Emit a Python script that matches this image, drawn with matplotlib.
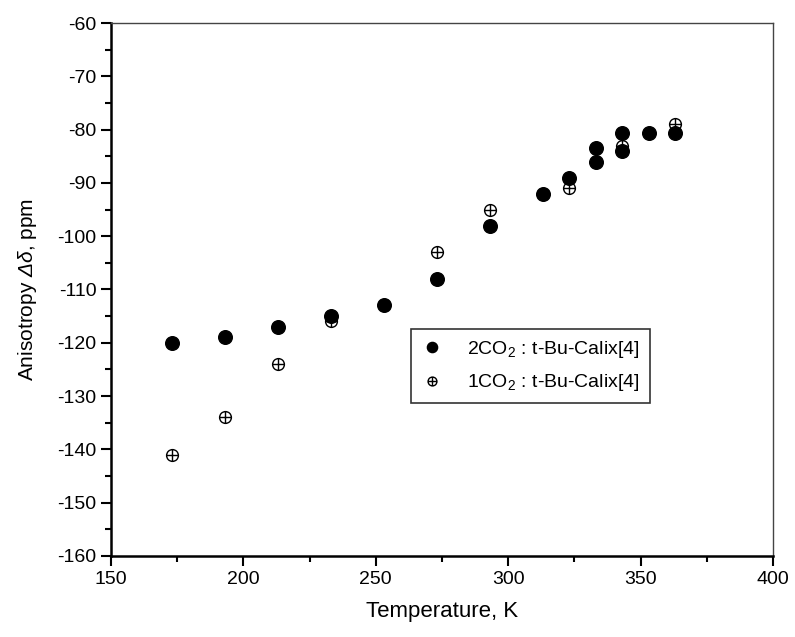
import numpy as np
import matplotlib
matplotlib.use('Agg')
import matplotlib.pyplot as plt
from matplotlib.path import Path
from matplotlib.ticker import MultipleLocator

plt.rcParams['font.family'] = ['Liberation Sans', 'DejaVu Sans']
plt.rcParams['mathtext.fontset'] = 'custom'
plt.rcParams['mathtext.rm'] = 'Liberation Sans'
plt.rcParams['mathtext.it'] = 'Liberation Sans:italic'
plt.rcParams['mathtext.sf'] = 'Liberation Sans:italic'  # italic Greek capitals too
plt.rcParams['axes.unicode_minus'] = False

# 2CO2 : t-Bu-Calix[4] (filled circles)
T2 = [173, 193, 213, 233, 253, 273, 293, 313, 323, 333, 333, 343, 343, 353, 363]
d2 = [-120, -119, -117, -115, -113, -108, -98, -92, -89, -83.5, -86, -80.7, -84, -80.7, -80.7]

# 1CO2 : t-Bu-Calix[4] (crossed circles)
T1 = [173, 193, 213, 233, 253, 273, 293, 313, 323, 343, 363]
d1 = [-141, -134, -124, -116, -113, -103, -95, -92, -91, -83, -79]

label2 = '2CO$_2$ : t-Bu-Calix[4]'
label1 = '1CO$_2$ : t-Bu-Calix[4]'

# circle with a cross inside
circ = Path.unit_circle()
cross = Path([[-1, 0], [1, 0], [0, -1], [0, 1]],
             [Path.MOVETO, Path.LINETO, Path.MOVETO, Path.LINETO])
oplus = Path.make_compound_path(circ, cross)

fig = plt.figure(figsize=(7.95, 6.37), dpi=100)
ax = fig.add_axes([111/795, 1-556/637, (773-111)/795, (556-23)/637])

ax.plot(T1, d1, linestyle='none', marker=oplus, markersize=8.5,
        mfc='white', mec='black', mew=1.0, label=label1, zorder=2)
ax.plot(T2, d2, linestyle='none', marker='o', markersize=9.8,
        mfc='black', mec='black', label=label2, zorder=3)

ax.set_xlim(150, 400)
ax.set_ylim(-160, -60)
ax.xaxis.set_major_locator(MultipleLocator(50))
ax.xaxis.set_minor_locator(MultipleLocator(25))
ax.yaxis.set_major_locator(MultipleLocator(10))
ax.yaxis.set_minor_locator(MultipleLocator(5))
ax.tick_params(which='major', direction='out', length=7, width=1.5, labelsize=14)
ax.tick_params(which='minor', direction='out', length=4, width=1.5)
ax.tick_params(top=False, right=False)

for s in ['left', 'bottom']:
    ax.spines[s].set_linewidth(1.8)
for s in ['top', 'right']:
    ax.spines[s].set_linewidth(1.0)
    ax.spines[s].set_color('#444444')

ax.set_xlabel('Temperature, K', fontsize=16, labelpad=10)
ax.set_ylabel('Anisotropy $\\mathsf{Δδ}$, ppm', fontsize=15, labelpad=13)

h, l = ax.get_legend_handles_labels()
leg = ax.legend(h[::-1], l[::-1], loc='upper left',
                bbox_to_anchor=((411-111)/662, (556-329)/533),
                fontsize=14, markerscale=0.75, frameon=True, fancybox=False,
                edgecolor='black', handlelength=1.2, handletextpad=1.2,
                borderpad=0.5, labelspacing=0.65, borderaxespad=0)
leg.get_frame().set_linewidth(1.2)

fig.savefig('out.png', dpi=100)
